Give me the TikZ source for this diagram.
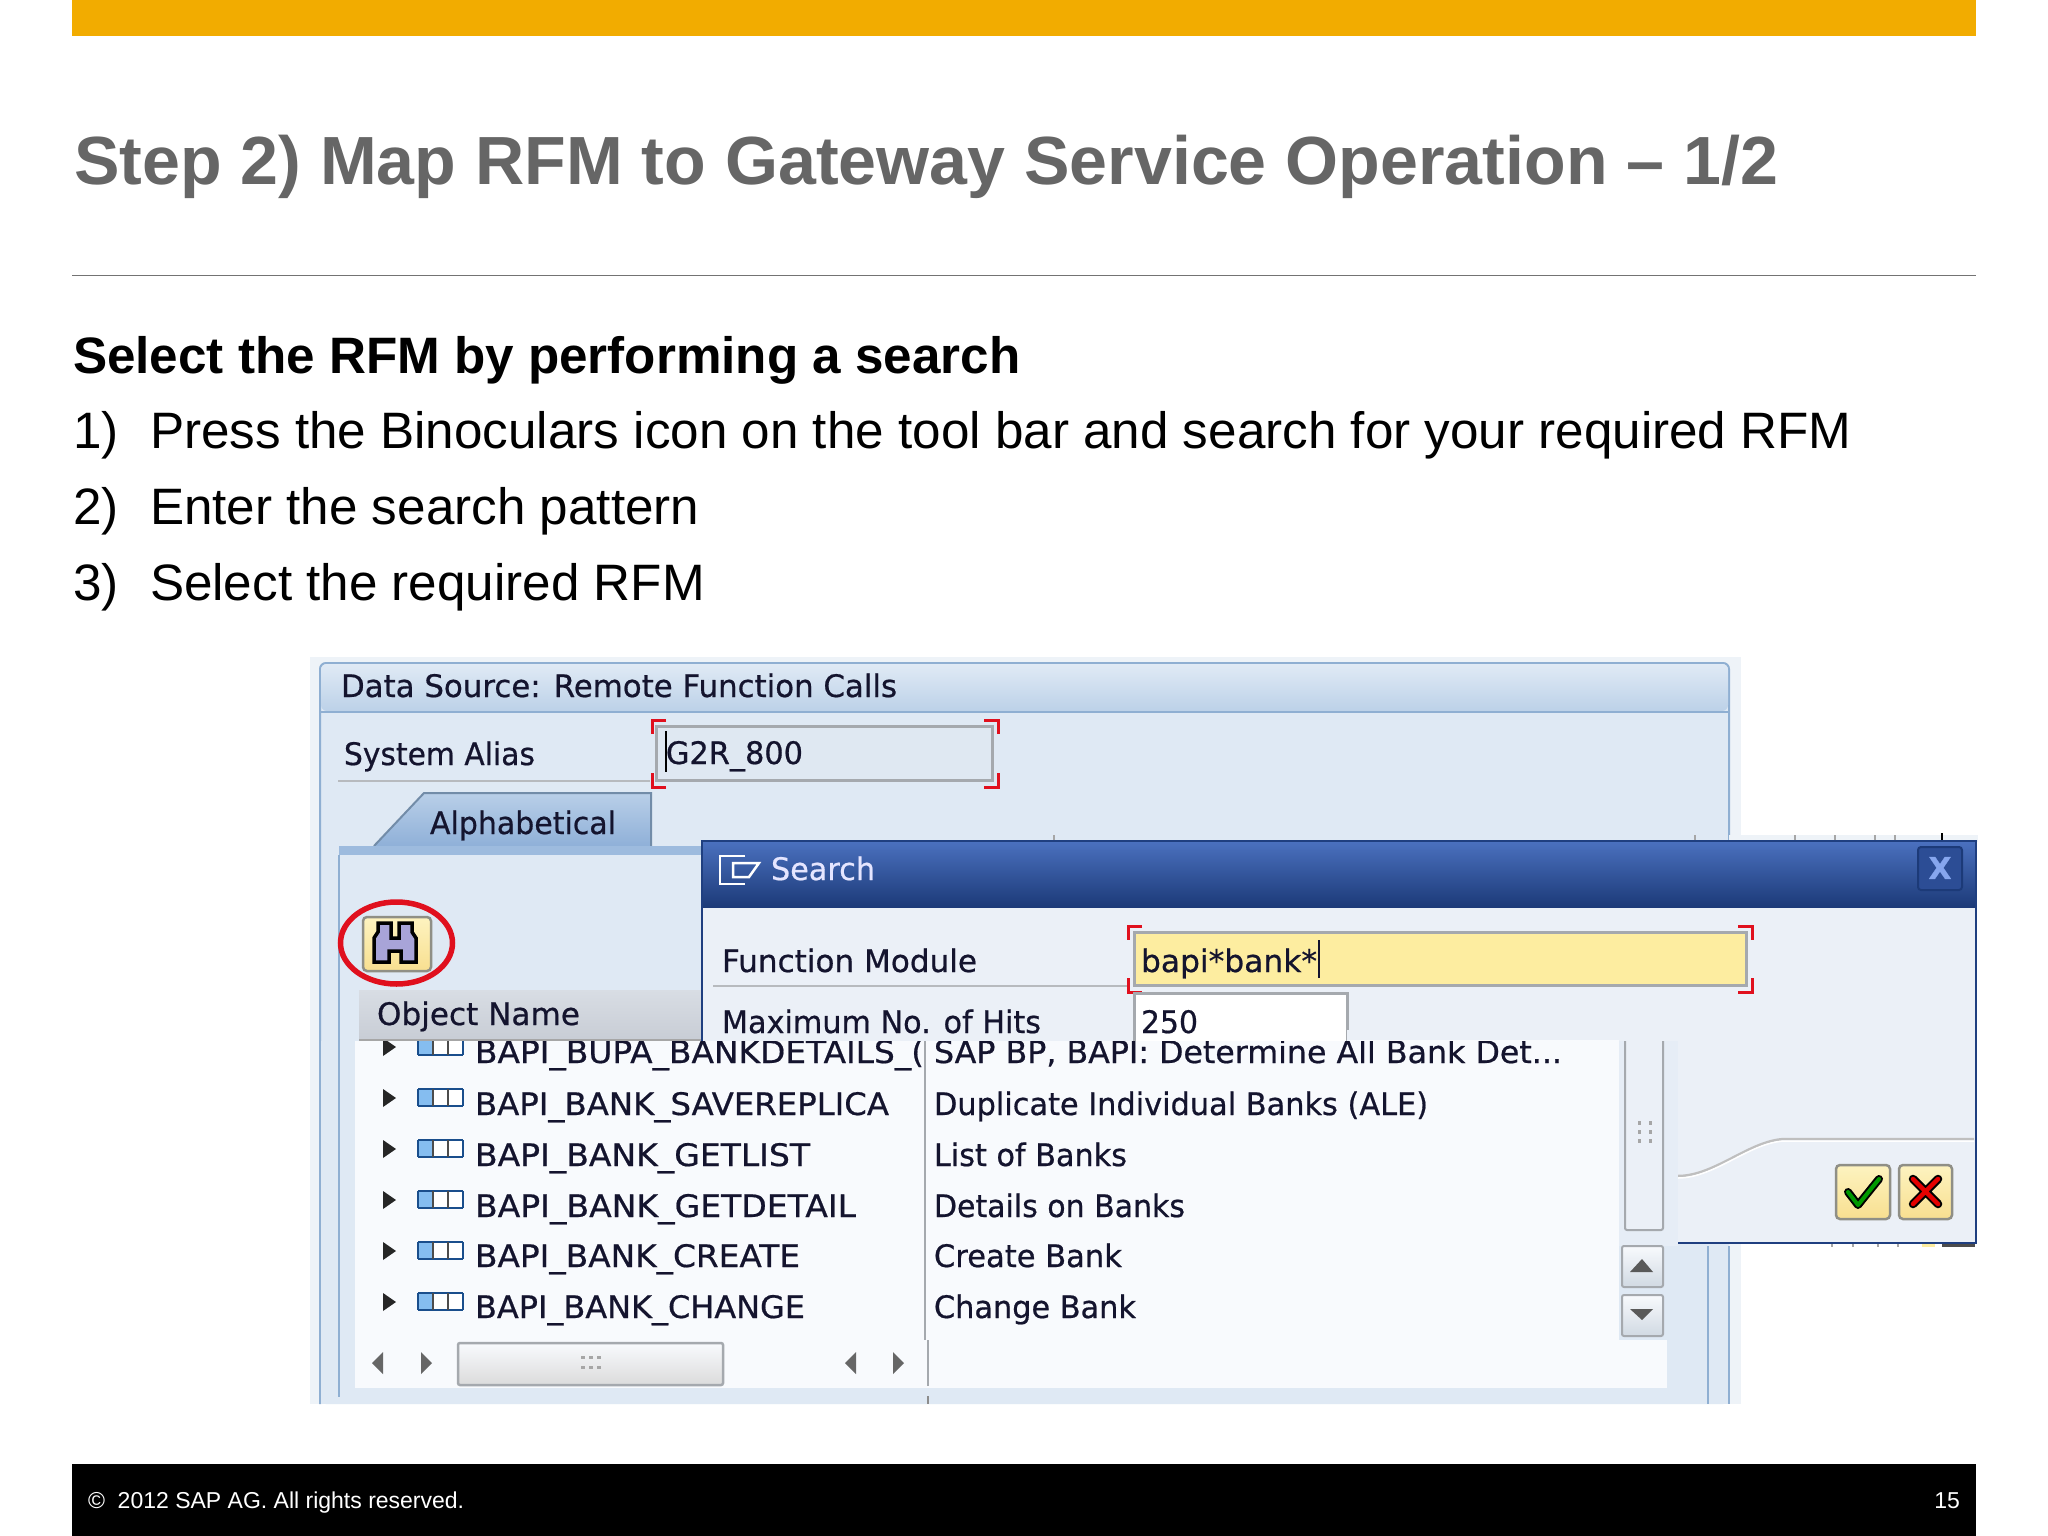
\documentclass[tikz,border=0pt]{standalone}
\usepackage{fontspec}
\usepackage{graphicx}
\setmainfont{Liberation Sans}
\newfontfamily\sapf[FakeBold=0.6]{DejaVu Sans}
\definecolor{sapgold}{HTML}{F2AC00}
\definecolor{titlegray}{HTML}{666666}
\definecolor{bgout}{HTML}{EEF3F8}
\definecolor{panelbg}{HTML}{DFE9F4}
\definecolor{hdrtop}{HTML}{E0EAF5}
\definecolor{hdrbot}{HTML}{BCD1E8}
\definecolor{winline}{HTML}{8FAFD2}
\definecolor{tabtop}{HTML}{B9CFE8}
\definecolor{tabbot}{HTML}{8FB0D8}
\definecolor{band}{HTML}{9DBBDE}
\definecolor{sapink}{HTML}{14142E}
\definecolor{dlgbg}{HTML}{EBF0F7}
\definecolor{dlgline}{HTML}{1F3F80}
\definecolor{dlgtop}{HTML}{4A70BE}
\definecolor{dlgbot}{HTML}{1C3A78}
\definecolor{listbg}{HTML}{F8FAFD}
\definecolor{fldline}{HTML}{A5A9AE}
\definecolor{fldfill}{HTML}{DFE8F2}
\definecolor{redb}{HTML}{E0101E}
\definecolor{yel}{HTML}{FDEDA0}
\definecolor{btntop}{HTML}{FDF3C0}
\definecolor{btnbot}{HTML}{F8DF90}
\definecolor{btnline}{HTML}{8F8F86}
\definecolor{hdrgtop}{HTML}{D8DDE4}
\definecolor{hdrgbot}{HTML}{C8CDD5}
\definecolor{closefill}{HTML}{2C4D95}
\definecolor{closex}{HTML}{86A6EE}
\definecolor{binoc}{HTML}{A8A4D8}
\definecolor{cellblue}{HTML}{85BDF0}
\definecolor{cellline}{HTML}{1A4E8C}
\newcommand\fw[2]{\resizebox{#1pt}{\height}{#2}}
\tikzset{
  x=1pt,y=-1pt,
  every node/.style={inner sep=0pt,outer sep=0pt,anchor=base west},
  titletxt/.style={font=\fontsize{68.15}{80}\selectfont\bfseries,text=titlegray},
  bodytxt/.style={font=\fontsize{51.2}{60}\selectfont,text=black},
  foot/.style={font=\fontsize{23}{28}\selectfont,text=white},
  sap/.style={font=\sapf\fontsize{31}{36}\selectfont,text=sapink},
  fld/.style={draw=fldline,line width=3pt},
  brk/.style={draw=redb,line width=3pt},
  btn/.style={draw=btnline,line width=2.5pt,rounded corners=4pt,top color=btntop,bottom color=btnbot},
  sbtn/.style={draw=fldline,line width=2pt,rounded corners=2pt,top color=listbg,bottom color=panelbg!85!gray},
  tri/.style={fill=#1,draw=none},
  tri/.default=black!75,
  tick/.style={draw=black!35,line width=1.5pt}
}
\newcommand\brackets[4]{%
  \draw[brk] (#1+14,#2) -- (#1,#2) -- (#1,#2+14);
  \draw[brk] (#3-14,#2) -- (#3,#2) -- (#3,#2+14);
  \draw[brk] (#1+14,#4) -- (#1,#4) -- (#1,#4-14);
  \draw[brk] (#3-14,#4) -- (#3,#4) -- (#3,#4-14);
}
\newcommand\listicon[1]{%
  \fill[tri=black!85] (383,#1-9) -- (396,#1) -- (383,#1+9) -- cycle;
  \fill[white] (418,#1-9) rectangle (463,#1+8);
  \fill[cellblue] (418,#1-9) rectangle (433,#1+8);
  \draw[cellline,line width=2.5pt] (418,#1-9) -- (463,#1-9) (418,#1+8) -- (463,#1+8);
  \draw[cellline,line width=1.5pt] (418,#1-9) -- (418,#1+8) (463,#1-9) -- (463,#1+8);
  \draw[black!70,line width=1.5pt] (433,#1-9) -- (433,#1+8) (448,#1-9) -- (448,#1+8);
}
\begin{document}
\begin{tikzpicture}
\useasboundingbox (0,0) rectangle (2048,1536);
\fill[white] (0,0) rectangle (2048,1536);
% slide frame
\fill[sapgold] (72,0) rectangle (1976,36);
\node[titletxt] (title) at (74,184) {Step 2) Map RFM to Gateway Service Operation – 1/2};
\draw[black!55,line width=1.5pt] (72,275.5) -- (1976,275.5);
\node[bodytxt,font=\fontsize{51.2}{60}\selectfont\bfseries] (sub) at (73,373) {Select the RFM by performing a search};
\node[bodytxt] (n1) at (73,448) {1)};
\node[bodytxt] (t1) at (150,448) {Press the Binoculars icon on the tool bar and search for your required RFM};
\node[bodytxt] (n2) at (73,524) {2)};
\node[bodytxt] (t2) at (150,524) {Enter the search pattern};
\node[bodytxt] (n3) at (73,600) {3)};
\node[bodytxt] (t3) at (150,600) {Select the required RFM};
\fill[black] (72,1464) rectangle (1976,1536);
\node[foot] (copy) at (88,1508) {©\ \ 2012 SAP AG. All rights reserved.};
\node[foot,anchor=base east] (page) at (1960,1508) {15};
% screenshot: window
\fill[bgout] (310,657) rectangle (1741,1404);
\fill[panelbg,rounded corners=6pt] (320,663) rectangle (1729,1404);
\draw[winline,line width=2pt] (320,1404) -- (320,672) [rounded corners=6pt] -- (320,663) -- (1729,663) -- (1729,840);
\shade[top color=hdrtop,bottom color=hdrbot,rounded corners=6pt] (321,664) rectangle (1728,711);
\draw[winline,line width=2.5pt] (320,712) -- (1729,712);
\node[sap] (hdr) at (341,697) {\fw{556}{Data Source: Remote Function Calls}};
% alias row
\node[sap] (alias) at (344,765) {\fw{191}{System Alias}};
\draw[fldline!80,line width=2pt] (338,780.5) -- (650,780.5);
\path[fld,fill=fldfill] (656,726) rectangle (992,780);
\node[sap] (g2r) at (666,764) {\fw{137}{G2R\_800}};
\draw[black,line width=1.5pt] (666,731) -- (666,772);
\brackets{652}{720}{998}{787}
% tab and panel
\fill[panelbg] (339,850) rectangle (703,1041);
\shade[top color=tabtop,bottom color=tabbot,draw=none] (374,846) -- (424,793) -- (651,793) -- (651,846) -- cycle;
\draw[winline!80!black,line width=2pt] (374,846) -- (424,793) -- (651,793) -- (651,846);
\fill[band] (339,846) rectangle (703,855);
\draw[winline,line width=2pt] (339,855) -- (339,1404);
\node[sap] (tab) at (430,834) {\fw{186}{Alphabetical}};
% binoculars button
\path[btn] (363,917) rectangle (431,971);
\path[fill=binoc,draw=black,line width=3.5pt,line join=miter] (374,962) -- (374,938) -- (378,932) -- (378,923) -- (391,923) -- (391,938) -- (399,938) -- (399,923) -- (412,923) -- (412,932) -- (416,938) -- (416,962) -- (401,962) -- (401,951) -- (389,951) -- (389,962) -- cycle;
\draw[redb,line width=5.5pt] (396.5,943) ellipse [x radius=56,y radius=41];
% object name header
\shade[top color=hdrgtop,bottom color=hdrgbot] (359,990) rectangle (702,1040);
\draw[black!35,line width=2pt] (359,1040) -- (702,1040);
\node[sap] (obj) at (377,1025) {\fw{203}{Object Name}};
% remnants of the window behind the dialog, top
\fill[bgout] (1729,835) rectangle (1978,842);
\foreach \xx in {1054,1695,1795,1835,1875,1895}{\draw[tick] (\xx,835) -- (\xx,841);}
\draw[black,line width=2.5pt] (1942,833) -- (1942,841);
% search dialog
\fill[dlgbg] (702,842) rectangle (1976,1243);
\shade[top color=dlgtop,bottom color=dlgbot] (703,842) rectangle (1976,907);
\draw[dlgline,line width=2.5pt] (702,1041) -- (702,841) -- (1976,841) -- (1976,1243) -- (1678,1243);
\draw[white,line width=2.5pt] (745,856) -- (720,856) -- (720,884) -- (745,884);
\draw[white,line width=2.5pt] (733,863) -- (759,863) -- (749,877) -- (733,877) -- cycle;
\node[sap,text=white!90!blue] (srch) at (771,880) {\fw{104}{Search}};
\path[fill=closefill,draw=dlgbot,rounded corners=3pt,line width=2pt] (1918,847) rectangle (1962,890);
\node[sap,font=\sapf\bfseries\fontsize{30}{34}\selectfont,text=closex,anchor=center] (cls) at (1940,868) {X};
\node[sap] (fm) at (722,972) {\fw{255}{Function Module}};
\draw[fldline!80,line width=2pt] (713,986) -- (1130,986);
\path[fld,fill=yel] (1134,932) rectangle (1746,985);
\node[sap] (pat) at (1141,972) {\fw{176}{bapi*bank*}};
\draw[sapink,line width=2pt] (1319,940) -- (1319,978);
\brackets{1128}{926}{1752}{992}
\path[fld,draw=fldline,fill=white] (1134,1060) -- (1134,993) -- (1347,993) -- (1347,1060);
\node[sap] (max) at (722,1033) {\fw{319}{Maximum No. of Hits}};
\node[sap] (hits) at (1141,1033) {\fw{57}{250}};
% dialog footer
\draw[black!25,line width=2.5pt] (1678,1176) .. controls (1715,1176) and (1750,1140) .. (1785,1139) -- (1974,1139);
\draw[white,line width=1.5pt] (1678,1178) .. controls (1715,1178) and (1750,1142) .. (1785,1141) -- (1974,1141);
\path[btn] (1836,1165) rectangle (1890,1219);
\path[btn] (1899,1165) rectangle (1952,1219);
\draw[black,line width=8pt,line cap=round,line join=round] (1848,1192) -- (1858,1205) -- (1879,1179);
\draw[green!60!black,line width=4pt,line cap=round,line join=round] (1848,1192) -- (1858,1205) -- (1879,1179);
\draw[black,line width=8.5pt,line cap=round] (1913,1179) -- (1938,1204) (1938,1179) -- (1913,1204);
\draw[red!90!black,line width=4.5pt,line cap=round] (1913,1179) -- (1938,1204) (1938,1179) -- (1913,1204);
% lower part overlaying the dialog
\fill[panelbg] (320,1041) rectangle (1678,1404);
\fill[panelbg] (1678,1244.5) rectangle (1729,1404);
\fill[bgout] (1729,1245) rectangle (1741,1404);
\fill[white] (1741,1245) rectangle (1978,1248);
\foreach \xx in {1832,1853,1878,1898}{\draw[tick] (\xx,1244) -- (\xx,1247);}
\fill[yel] (1922,1244) rectangle (1935,1247);
\fill[black!70] (1942,1244) rectangle (1975,1247);
\draw[winline,line width=2pt] (320,1041) -- (320,1404);
\draw[winline,line width=2pt] (339,1041) -- (339,1397);
\draw[winline,line width=2pt] (1708,1246) -- (1708,1404) (1729,1246) -- (1729,1404);
\fill[listbg] (355,1041) rectangle (1619,1340);
\fill[listbg] (355,1340) rectangle (1667,1388);
\fill[dlgbg!60!panelbg] (1619,1041) rectangle (1678,1246);
% list rows
\begin{scope}
\clip (355,1041) rectangle (925,1340);
\node[sap] (r1) at (475,1063) {\fw{449}{BAPI\_BUPA\_BANKDETAILS\_(}};
\listicon{1047}
\end{scope}
\begin{scope}
\clip (926,1041) rectangle (1619,1340);
\node[sap] (d1) at (934,1063) {\fw{628}{SAP BP, BAPI: Determine All Bank Det...}};
\end{scope}
\listicon{1098}
\node[sap] (r2) at (475,1115) {\fw{414}{BAPI\_BANK\_SAVEREPLICA}};
\node[sap] (d2) at (934,1115) {\fw{494}{Duplicate Individual Banks (ALE)}};
\listicon{1149}
\node[sap] (r3) at (475,1166) {\fw{335}{BAPI\_BANK\_GETLIST}};
\node[sap] (d3) at (934,1166) {\fw{193}{List of Banks}};
\listicon{1200}
\node[sap] (r4) at (475,1217) {\fw{381}{BAPI\_BANK\_GETDETAIL}};
\node[sap] (d4) at (934,1217) {\fw{251}{Details on Banks}};
\listicon{1251}
\node[sap] (r5) at (475,1267) {\fw{325}{BAPI\_BANK\_CREATE}};
\node[sap] (d5) at (934,1267) {\fw{188}{Create Bank}};
\listicon{1302}
\node[sap] (r6) at (475,1318) {\fw{330}{BAPI\_BANK\_CHANGE}};
\node[sap] (d6) at (934,1318) {\fw{202}{Change Bank}};
\draw[fldline,line width=2pt] (925,1041) -- (925,1340);
\draw[fldline,line width=2pt] (928,1340) -- (928,1386);
\draw[black!45,line width=2pt] (928,1396) -- (928,1404);
% vertical scrollbar
\path[draw=fldline,line width=2pt,fill=dlgbg,rounded corners=2pt] (1625,1035) rectangle (1663,1230);
\fill[dlgbg] (1347,1030) rectangle (1678,1041);
\fill[listbg] (1349,1040) rectangle (1619,1041);
\foreach \yy in {1121,1130,1139}{
  \fill[black!35] (1638,\yy) rectangle (1641,\yy+4);
  \fill[black!35] (1649,\yy) rectangle (1652,\yy+4);
}
\path[sbtn] (1622,1246) rectangle (1663,1287);
\path[sbtn] (1622,1295) rectangle (1663,1336);
\fill[tri=black!65] (1630,1272) -- (1642,1259) -- (1653,1272) -- cycle;
\fill[tri=black!65] (1630,1309) -- (1653,1309) -- (1642,1320) -- cycle;
% horizontal scrollbar
\path[draw=fldline,line width=2.5pt,top color=listbg,bottom color=black!14,rounded corners=2pt] (458,1343) rectangle (723,1385);
\foreach \xx in {581,589,597}{
  \fill[black!35] (\xx,1356) rectangle (\xx+4,1359);
  \fill[black!35] (\xx,1366) rectangle (\xx+4,1369);
}
\fill[tri=black!60] (383,1352) -- (372,1363) -- (383,1374) -- cycle;
\fill[tri=black!60] (421,1352) -- (432,1363) -- (421,1374) -- cycle;
\fill[tri=black!60] (856,1352) -- (845,1363) -- (856,1374) -- cycle;
\fill[tri=black!60] (893,1352) -- (904,1363) -- (893,1374) -- cycle;
\end{tikzpicture}
\end{document}
